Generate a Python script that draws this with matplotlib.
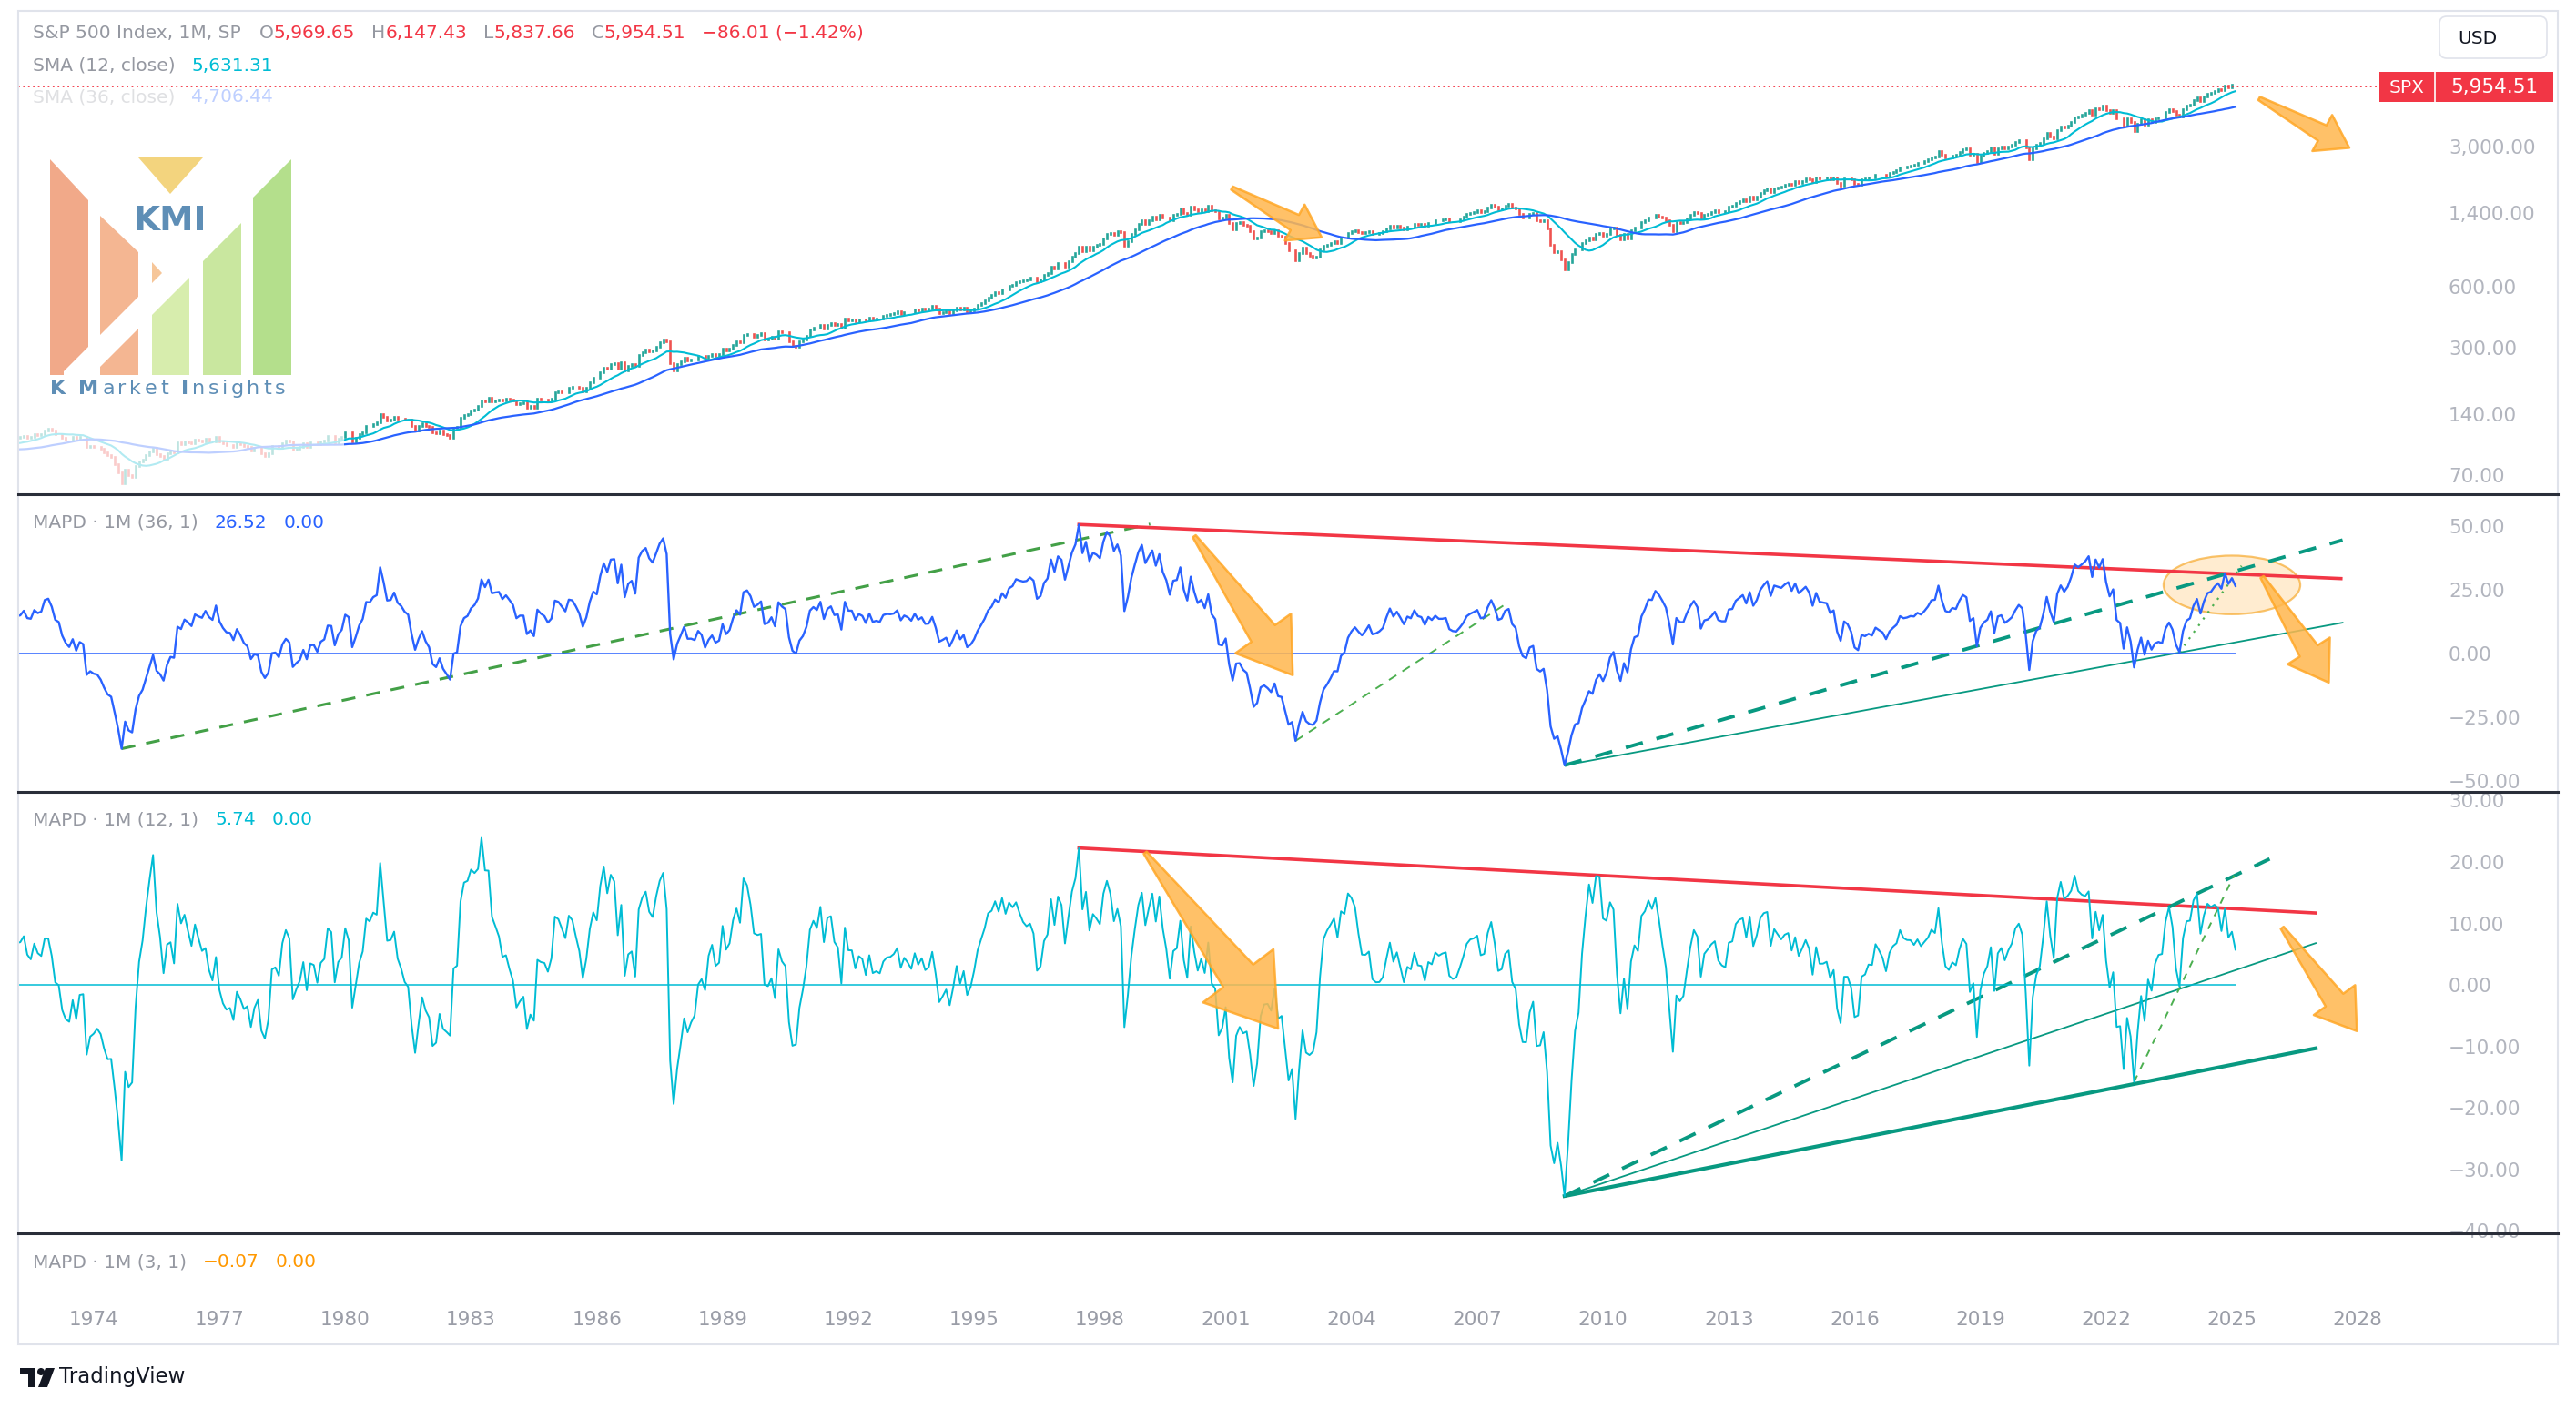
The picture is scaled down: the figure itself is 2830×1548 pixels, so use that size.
import numpy as np
import pandas as pd
import matplotlib
matplotlib.use("Agg")
import matplotlib.pyplot as plt
from matplotlib.patches import Polygon, Rectangle, Ellipse, FancyBboxPatch, Circle
from matplotlib.ticker import FixedLocator, NullLocator, FuncFormatter

plt.rcParams['font.family'] = ['DejaVu Sans']

# S&P 500 monthly closes, one row per year, starting Jan 1969
close_1969_1979 = [
    103.01, 98.13, 101.51, 103.69, 103.46, 97.71, 91.83, 95.51, 93.12, 97.24, 93.81, 92.06,
    85.02, 89.50, 89.63, 81.52, 76.55, 72.72, 78.05, 81.52, 84.21, 83.25, 87.20, 92.15,
    95.88, 96.75, 100.31, 103.95, 99.63, 99.70, 95.58, 99.03, 98.34, 94.23, 93.99, 102.09,
    103.94, 106.57, 107.20, 107.67, 109.53, 107.14, 107.39, 111.09, 110.55, 111.58, 116.67, 118.05,
    116.03, 111.68, 111.52, 106.97, 104.95, 104.26, 108.22, 104.25, 108.43, 108.29, 95.96, 97.55,
    96.57, 96.22, 93.98, 90.31, 87.28, 86.00, 79.31, 72.15, 63.54, 73.90, 69.97, 68.56,
    76.98, 81.59, 83.36, 87.30, 91.15, 95.19, 88.75, 86.88, 83.87, 89.04, 91.24, 90.19,
    100.86, 99.71, 102.77, 101.64, 100.18, 104.28, 103.44, 102.91, 105.24, 102.90, 102.10, 107.46,
    102.03, 99.82, 98.42, 98.44, 96.12, 100.48, 98.85, 96.77, 96.53, 92.34, 94.83, 95.10,
    89.25, 87.04, 89.21, 96.83, 97.24, 95.53, 100.68, 103.29, 102.54, 93.15, 94.70, 96.11,
    99.93, 96.28, 101.59, 101.76, 99.08, 102.91, 103.81, 109.32, 109.32, 101.82, 106.16, 107.94,
]
close_1980s = [
    114.16, 113.66, 102.09, 106.29, 111.24, 114.24, 121.67, 122.38, 125.46, 127.47, 140.52, 135.76,
    129.55, 131.27, 136.00, 132.81, 132.59, 131.21, 130.92, 122.79, 116.18, 121.89, 126.35, 122.55,
    120.40, 113.11, 111.96, 116.44, 111.88, 109.61, 107.09, 119.51, 120.42, 133.71, 138.54, 140.64,
    145.30, 148.06, 152.96, 164.42, 162.39, 168.11, 162.56, 164.40, 166.07, 163.55, 166.40, 164.93,
    163.41, 157.06, 159.18, 160.05, 150.55, 153.18, 150.66, 166.68, 166.10, 166.09, 163.58, 167.24,
    179.63, 181.18, 180.66, 179.83, 189.55, 191.85, 190.92, 188.63, 182.08, 189.82, 202.17, 211.28,
    211.78, 226.92, 238.90, 235.52, 247.35, 250.84, 236.12, 252.93, 231.32, 243.98, 249.22, 242.17,
    274.08, 284.20, 291.70, 288.36, 290.10, 304.00, 318.66, 329.80, 321.83, 251.79, 230.30, 247.08,
    257.07, 267.82, 258.89, 261.33, 262.16, 273.50, 272.02, 261.52, 271.91, 278.97, 273.70, 277.72,
    297.47, 288.86, 294.87, 309.64, 320.52, 317.98, 346.08, 351.45, 349.15, 340.36, 345.99, 353.40,
]
close_1990s = [
    329.08, 331.89, 339.94, 330.80, 361.23, 358.02, 356.15, 322.56, 306.05, 304.00, 322.22, 330.22,
    343.93, 367.07, 375.22, 375.35, 389.83, 371.16, 387.81, 395.43, 387.86, 392.46, 375.22, 417.09,
    408.79, 412.70, 403.69, 414.95, 415.35, 408.14, 424.21, 414.03, 417.80, 418.68, 431.35, 435.71,
    438.78, 443.38, 451.67, 440.19, 450.19, 450.53, 448.13, 463.56, 458.93, 467.83, 461.79, 466.45,
    481.61, 467.14, 445.77, 450.91, 456.50, 444.27, 458.26, 475.49, 462.69, 472.35, 453.69, 459.27,
    470.42, 487.39, 500.71, 514.71, 533.40, 544.75, 562.06, 561.88, 584.41, 581.50, 605.37, 615.93,
    636.02, 640.43, 645.50, 654.17, 669.12, 670.63, 639.95, 651.99, 687.31, 705.27, 757.02, 740.74,
    786.16, 790.82, 757.12, 801.34, 848.28, 885.14, 954.29, 899.47, 947.28, 914.62, 955.40, 970.43,
    980.28, 1049.34, 1101.75, 1111.75, 1090.82, 1133.84, 1120.67, 957.28, 1017.01, 1098.67, 1163.63, 1229.23,
    1279.64, 1238.33, 1286.37, 1335.18, 1301.84, 1372.71, 1328.72, 1320.41, 1282.71, 1362.93, 1388.91, 1469.25,
]
close_2000s = [
    1394.46, 1366.42, 1498.58, 1452.43, 1420.60, 1454.60, 1430.83, 1517.68, 1436.51, 1429.40, 1314.95, 1320.28,
    1366.01, 1239.94, 1160.33, 1249.46, 1255.82, 1224.38, 1211.23, 1133.58, 1040.94, 1059.78, 1139.45, 1148.08,
    1130.20, 1106.73, 1147.39, 1076.92, 1067.14, 989.82, 911.62, 916.07, 815.28, 885.76, 936.31, 879.82,
    855.70, 841.15, 848.18, 916.92, 963.59, 974.50, 990.31, 1008.01, 995.97, 1050.71, 1058.20, 1111.92,
    1131.13, 1144.94, 1126.21, 1107.30, 1120.68, 1140.84, 1101.72, 1104.24, 1114.58, 1130.20, 1173.82, 1211.92,
    1181.27, 1203.60, 1180.59, 1156.85, 1191.50, 1191.33, 1234.18, 1220.33, 1228.81, 1207.01, 1249.48, 1248.29,
    1280.08, 1280.66, 1294.87, 1310.61, 1270.09, 1270.20, 1276.66, 1303.82, 1335.85, 1377.94, 1400.63, 1418.30,
    1438.24, 1406.82, 1420.86, 1482.37, 1530.62, 1503.35, 1455.27, 1473.99, 1526.75, 1549.38, 1481.14, 1468.36,
    1378.55, 1330.63, 1322.70, 1385.59, 1400.38, 1280.00, 1267.38, 1282.83, 1166.36, 968.75, 896.24, 903.25,
    825.88, 735.09, 797.87, 872.81, 919.14, 919.32, 987.48, 1020.62, 1057.08, 1036.19, 1095.63, 1115.10,
]
close_2010s = [
    1073.87, 1104.49, 1169.43, 1186.69, 1089.41, 1030.71, 1101.60, 1049.33, 1141.20, 1183.26, 1180.55, 1257.64,
    1286.12, 1327.22, 1325.83, 1363.61, 1345.20, 1320.64, 1292.28, 1218.89, 1131.42, 1253.30, 1246.96, 1257.60,
    1312.41, 1365.68, 1408.47, 1397.91, 1310.33, 1362.16, 1379.32, 1406.58, 1440.67, 1412.16, 1416.18, 1426.19,
    1498.11, 1514.68, 1569.19, 1597.57, 1630.74, 1606.28, 1685.73, 1632.97, 1681.55, 1756.54, 1805.81, 1848.36,
    1782.59, 1859.45, 1872.34, 1883.95, 1923.57, 1960.23, 1930.67, 2003.37, 1972.29, 2018.05, 2067.56, 2058.90,
    1994.99, 2104.50, 2067.89, 2085.51, 2107.39, 2063.11, 2103.84, 1972.18, 1920.03, 2079.36, 2080.41, 2043.94,
    1940.24, 1932.23, 2059.74, 2065.30, 2096.95, 2098.86, 2173.60, 2170.95, 2168.27, 2126.15, 2198.81, 2238.83,
    2278.87, 2363.64, 2362.72, 2384.20, 2411.80, 2423.41, 2470.30, 2471.65, 2519.36, 2575.26, 2647.58, 2673.61,
    2823.81, 2713.83, 2640.87, 2648.05, 2705.27, 2718.37, 2816.29, 2901.52, 2913.98, 2711.74, 2760.17, 2506.85,
    2704.10, 2784.49, 2834.40, 2945.83, 2752.06, 2941.76, 2980.38, 2926.46, 2976.74, 3037.56, 3140.98, 3230.78,
]
close_2020s = [
    3225.52, 2954.22, 2584.59, 2912.43, 3044.31, 3100.29, 3271.12, 3500.31, 3363.00, 3269.96, 3621.63, 3756.07,
    3714.24, 3811.15, 3972.89, 4181.17, 4204.11, 4297.50, 4395.26, 4522.68, 4307.54, 4605.38, 4567.00, 4766.18,
    4515.55, 4373.94, 4530.41, 4131.93, 4132.15, 3785.38, 4130.29, 3955.00, 3585.62, 3871.98, 4080.11, 3839.50,
    4076.60, 3970.15, 4109.31, 4169.48, 4179.83, 4450.38, 4588.96, 4507.66, 4288.05, 4193.80, 4567.80, 4769.83,
    4845.65, 5096.27, 5254.35, 5035.69, 5277.51, 5460.48, 5522.30, 5648.40, 5762.48, 5705.45, 6032.38, 5881.63,
    6040.52, 5954.51,
]
# last (Feb 2025) bar
last_open, last_high, last_low = 5969.65, 6147.43, 5837.66

price_ticks = [70, 140, 300, 600, 1400, 3000]
mapd36_ticks = [-50, -25, 0, 25, 50]
mapd12_ticks = [-40, -30, -20, -10, 0, 10, 20, 30]
year_ticks = list(range(1974, 2029, 3))

close = np.array(close_1969_1979 + close_1980s + close_1990s + close_2000s + close_2010s + close_2020s)
t = 1969 + np.arange(len(close)) / 12
opn = np.r_[close[0], close[:-1]]
opn[-1] = last_open
s = pd.Series(close)
sma3 = s.rolling(3).mean().to_numpy()
sma12 = s.rolling(12).mean().to_numpy()
sma36 = s.rolling(36).mean().to_numpy()
mapd3 = (close / sma3 - 1) * 100
mapd12 = (close / sma12 - 1) * 100
mapd36 = (close / sma36 - 1) * 100

def at(series, year, month):
    i = (year - 1969) * 12 + month - 1
    return t[i], series[i]

W, H = 2830, 1548
fig = plt.figure(figsize=(W / 100, H / 100), dpi=100)
fig.patch.set_facecolor('white')

XL = (1972.2, 2029.69)
AXC = '#b2b5be'
GRAY = '#9598a1'
BLUE = '#2962ff'
CYAN = '#00bcd4'
RED = '#f23645'
TEAL = '#089981'
GREEN = '#4caf50'


def pane(y0, y1, x0=20, x1=2668):
    ax = fig.add_axes([x0 / W, 1 - y1 / H, (x1 - x0) / W, (y1 - y0) / H])
    for sp in ax.spines.values():
        sp.set_visible(False)
    ax.set_xlim(*XL)
    ax.set_xticks([])
    ax.yaxis.tick_right()
    ax.tick_params(axis='both', length=0, labelsize=15.5, labelcolor=AXC)
    ax.tick_params(axis='y', pad=15.8)
    ax.patch.set_alpha(0)
    return ax


def fmt(v, _=None):
    txt = f"{abs(v):,.2f}"
    return ("\u2212" + txt) if v < 0 else txt


# ---- price pane
axp = pane(12, 543)
axp.set_yscale('log')
axp.set_ylim(56, 14100)
axp.yaxis.set_major_locator(FixedLocator(price_ticks))
axp.yaxis.set_minor_locator(NullLocator())
axp.yaxis.set_major_formatter(FuncFormatter(fmt))
up = close >= opn
axp.vlines(t[up], opn[up], close[up], color='#26a69a', lw=1.9, capstyle='projecting')
axp.vlines(t[~up], opn[~up], close[~up], color='#ef5350', lw=1.9, capstyle='projecting')
axp.plot(t, sma12, color=CYAN, lw=1.5)
axp.plot(t, sma36, color=BLUE, lw=1.6)
axp.axhline(close[-1], color=RED, lw=1.3, ls=(0, (1, 2)))

# ---- MAPD 36
ax36 = pane(543, 870)
ax36.set_ylim(-54.3, 62.5)
ax36.yaxis.set_major_locator(FixedLocator(mapd36_ticks))
ax36.yaxis.set_major_formatter(FuncFormatter(fmt))
ax36.plot(t, mapd36, color=BLUE, lw=1.7, zorder=3)
ax36.hlines(0, t[0], t[-1], color=BLUE, lw=1.1, zorder=3)

p = at(mapd36, 1974, 9)
ax36.plot([p[0], 1999.2], [p[1], 50.8], color='#43a047', lw=2.2, ls=(0, (5, 4)))
p = at(mapd36, 1997, 7)
ax36.plot([p[0], 2027.6], [p[1], 29.4], color=RED, lw=2.6)
p = at(mapd36, 2002, 9)
ax36.plot([p[0], 2007.66], [p[1], 19.2], color=GREEN, lw=1.4, ls=(0, (5, 4)))
p = at(mapd36, 2009, 2)
ax36.plot([p[0], 2027.64], [p[1], 44.5], color=TEAL, lw=2.8, ls=(0, (5, 4)))
ax36.plot([p[0], 2027.64], [p[1], 12.1], color=TEAL, lw=1.3)
p = at(mapd36, 2023, 10)
ax36.plot([p[0], 2025.23], [p[1], 34.4], color=GREEN, lw=1.6, ls=(0, (1, 3)))
ax36.add_patch(Ellipse((2025.0, 26.9), 3.26, 23, fc='#ffe0b2', ec='#f59d0e', lw=1.6, alpha=0.6, zorder=1))

# ---- MAPD 12
ax12 = pane(870, 1355)
ax12.set_ylim(-40.4, 31.4)
ax12.yaxis.set_major_locator(FixedLocator(mapd12_ticks))
ax12.yaxis.set_major_formatter(FuncFormatter(fmt))
ax12.plot(t, mapd12, color=CYAN, lw=1.4, zorder=3)
ax12.hlines(0, t[0], t[-1], color=CYAN, lw=1.1, zorder=3)

p = at(mapd12, 1997, 7)
ax12.plot([p[0], 2027.0], [p[1], 11.7], color=RED, lw=2.6)
p = at(mapd12, 2009, 2)
ax12.plot([p[0], 2025.9], [p[1], 20.5], color=TEAL, lw=2.8, ls=(0, (5, 4)))
ax12.plot([p[0], 2027.0], [p[1], 6.8], color=TEAL, lw=1.3)
ax12.plot([p[0], 2027.0], [p[1], -10.3], color=TEAL, lw=3.0)
p = at(mapd12, 2022, 9)
ax12.plot([p[0], 2025.05], [p[1], 17.8], color=GREEN, lw=1.4, ls=(0, (4, 4)))

# ---- MAPD 3 (collapsed) + time axis
ax3 = pane(1355, 1425)
ax3.set_yticks([])
ax3.xaxis.set_major_locator(FixedLocator(year_ticks))
ax3.xaxis.set_major_formatter(FuncFormatter(lambda v, _: f"{int(round(v))}"))
ax3.tick_params(axis='x', pad=10.5, labelsize=15.5, labelcolor='#9a9da7')

# ---- overlay in pixel coordinates
ov = fig.add_axes([0, 0, 1, 1])
ov.set_xlim(0, W)
ov.set_ylim(H, 0)
ov.axis('off')
ov.set_zorder(10)
R = fig.canvas.get_renderer()


def run(x, y, parts, size=14.5, z=5):
    for txt, col, gap, *w in parts:
        tt = ov.text(x, y, txt, color=col, fontsize=size, va='center', ha='left', zorder=z,
                     fontweight=w[0] if w else 'normal')
        x += tt.get_window_extent(renderer=R).width + gap
    return x


chg = close[-1] - close[-2]
pct = chg / close[-2] * 100
run(36, 36, [("S&P 500 Index, 1M, SP", GRAY, 20), ("O", GRAY, 0), (f"{last_open:,.2f}", RED, 18),
             ("H", GRAY, 0), (f"{last_high:,.2f}", RED, 18), ("L", GRAY, 0), (f"{last_low:,.2f}", RED, 18),
             ("C", GRAY, 0), (f"{close[-1]:,.2f}", RED, 18), (f"{fmt(chg)} ({fmt(pct)}%)", RED, 0)])
run(36, 72, [("SMA (12, close)", GRAY, 18), (f"{sma12[-1]:,.2f}", CYAN, 0)])
run(36, 107, [("SMA (36, close)", GRAY, 18), (f"{sma36[-1]:,.2f}", BLUE, 0)])
run(36, 574, [("MAPD \u00b7 1M (36, 1)", GRAY, 18), (f"{mapd36[-1]:.2f}", BLUE, 18), ("0.00", BLUE, 0)])
run(36, 901, [("MAPD \u00b7 1M (12, 1)", GRAY, 18), (f"{mapd12[-1]:.2f}", CYAN, 18), ("0.00", CYAN, 0)])
run(36, 1387, [("MAPD \u00b7 1M (3, 1)", GRAY, 18), (fmt(mapd3[-1]), '#ff9800', 18), ("0.00", '#ff9800', 0)])

# watermark logo
ov.add_patch(Rectangle((20, 97), 358, 443, fc='white', ec='none', alpha=0.7, zorder=6))
logo = [
    ([(55, 175), (97, 220), (97, 412), (55, 412)], '#f0a07c'),
    ([(110, 237), (152, 277), (152, 412), (110, 412)], '#f3ae86'),
]
for pts, col in logo:
    ov.add_patch(Polygon(pts, closed=True, fc=col, ec='none', alpha=0.9, zorder=7))
ov.add_patch(Polygon([(70, 408), (170, 308), (205, 308), (97, 416), (70, 416)], closed=True,
                     fc='white', ec='none', zorder=7))
logo2 = [
    ([(167, 288), (178, 300), (167, 311)], '#f6c08e'),
    ([(167, 346), (208, 305), (208, 412), (167, 412)], '#d3eba4'),
    ([(223, 287), (265, 245), (265, 412), (223, 412)], '#c3e595'),
    ([(278, 217), (320, 175), (320, 412), (278, 412)], '#acdc80'),
    ([(152, 173), (223, 173), (187, 213)], '#f2d070'),
]
for pts, col in logo2:
    ov.add_patch(Polygon(pts, closed=True, fc=col, ec='none', alpha=0.9, zorder=7))
ov.text(187, 243, "KMI", fontsize=27, fontweight='bold', color='#5e8eb6', ha='center', va='center', zorder=8)
kmi = []
for ch in "K Market Insights":
    kmi.append((ch, '#5e8eb6', 3.6, 'bold' if ch in "KMI" else 'normal'))
run(55, 427, kmi, size=16, z=8)


# orange block arrows
def block_arrow(ax, p0, p1):
    a = ax.transData.transform(p0)
    b = ax.transData.transform(p1)
    a = np.array([a[0], H - a[1]])
    b = np.array([b[0], H - b[1]])
    d = b - a
    L = np.hypot(*d)
    u = d / L
    n = np.array([-u[1], u[0]])
    neck = b - u * 0.3 * L
    hw, sw = 0.2 * L, 0.085 * L
    pts = [a + n * 2, neck + n * sw, neck + n * hw, b, neck - n * hw, neck - n * sw, a - n * 2]
    ov.add_patch(Polygon(pts, closed=True, fc='#ffb74d', ec='#ffa726', lw=1.8, alpha=0.85,
                         joinstyle='round', zorder=8))


block_arrow(axp, (2001.15, 1858), (2003.29, 1058))
block_arrow(axp, (2025.65, 5180), (2027.8, 2946))
block_arrow(ax36, (2000.25, 46.0), (2002.6, -8.5))
block_arrow(ax36, (2025.72, 30.0), (2027.31, -11.4))
block_arrow(ax12, (1999.08, 21.5), (2002.25, -7.1))
block_arrow(ax12, (2026.2, 9.3), (2027.98, -7.5))

# last price tag + currency box
ov.add_patch(Rectangle((2614, 79), 191, 33, fc=RED, ec='none', zorder=8))
ov.plot([2675, 2675], [79, 112], color='white', lw=1.2, zorder=9)
ov.text(2644, 96, "SPX", color='white', fontsize=14.5, ha='center', va='center', zorder=9)
ov.text(2740, 96, f"{close[-1]:,.2f}", color='white', fontsize=15.5, ha='center', va='center', zorder=9)
ov.add_patch(FancyBboxPatch((2680, 18), 118, 46, boxstyle="round,pad=0,rounding_size=8",
                            fc='white', ec='#e0e3eb', lw=1.2, zorder=8))
ov.text(2700, 42, "USD", color='#131722', fontsize=14.5, ha='left', va='center', zorder=9)

# frame and pane separators
ov.add_patch(Rectangle((20, 12), 2790, 1465, fill=False, ec='#e0e3eb', lw=1.5, zorder=9))
for yy in (543, 870, 1355):
    ov.plot([20, 2810], [yy, yy], color='#2a2e39', lw=2.2, zorder=9)

# TradingView mark
ov.add_patch(Rectangle((22, 1503), 17, 7, fc='#131722', ec='none', zorder=9))
ov.add_patch(Rectangle((31, 1503), 8, 21, fc='#131722', ec='none', zorder=9))
ov.add_patch(Circle((45, 1507), 4, fc='#131722', ec='none', zorder=9))
ov.add_patch(Polygon([(50, 1503), (60, 1503), (52, 1524), (42, 1524)], closed=True, fc='#131722', ec='none', zorder=9))
ov.text(65, 1513, "TradingView", color='#131722', fontsize=16.5, ha='left', va='center', zorder=9)

fig.savefig('out.png', dpi=100)
